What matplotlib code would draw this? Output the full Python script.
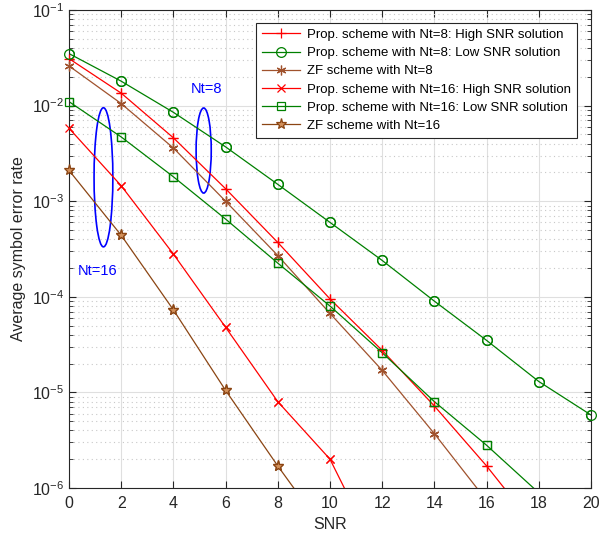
import matplotlib
matplotlib.use("Agg")
import matplotlib.pyplot as plt
from matplotlib.patches import Ellipse
from matplotlib.ticker import LogLocator, NullFormatter

plt.rcParams['font.family'] = ['Liberation Sans', 'DejaVu Sans']

snr = [0, 2, 4, 6, 8, 10, 12, 14, 16, 18, 20]

prop8_high = [0.031, 0.0135, 0.0046, 0.00135, 3.7e-4, 9.5e-5, 2.75e-5, 7.2e-6, 1.7e-6, 3.5e-7, None]
prop8_low = [0.035, 0.018, 0.0085, 0.0037, 0.0015, 6.0e-4, 2.4e-4, 9.0e-5, 3.5e-5, 1.3e-5, 5.8e-6]
zf8 = [0.026, 0.0105, 0.0036, 0.0010, 2.7e-4, 6.7e-5, 1.7e-5, 3.7e-6, 7.4e-7, None, None]
prop16_high = [0.0058, 0.00145, 2.8e-4, 4.8e-5, 8.0e-6, 2.0e-6, 1.6e-7, None, None, None, None]
prop16_low = [0.011, 0.0047, 0.0018, 6.5e-4, 2.25e-4, 8.0e-5, 2.6e-5, 8.0e-6, 2.8e-6, 8.9e-7, None]
zf16 = [0.0021, 4.4e-4, 7.3e-5, 1.05e-5, 1.7e-6, 3.0e-7, None, None, None, None, None]

labels = [
    "Prop. scheme with Nt=8: High SNR solution",
    "Prop. scheme with Nt=8: Low SNR solution",
    "ZF scheme with Nt=8",
    "Prop. scheme with Nt=16: High SNR solution",
    "Prop. scheme with Nt=16: Low SNR solution",
    "ZF scheme with Nt=16",
]

YMIN, YMAX = 1e-6, 1e-1

def clean(xs, ys):
    pts = [(x, y) for x, y in zip(xs, ys) if y is not None]
    return [p[0] for p in pts], [p[1] for p in pts]

fig = plt.figure(figsize=(6.07, 5.37), dpi=100)
ax = fig.add_axes([69/607, 1 - 488/537, 522/607, 478/537])

styles = [
    dict(color='#ff0000', marker='+', ms=7, mew=0.9, mfc='none'),
    dict(color='#008000', marker='o', ms=7, mew=0.9, mfc='none'),
    dict(color='#a0522d', marker=(6, 2, 0), ms=7, mew=0.9, mfc='none'),
    dict(color='#ff0000', marker='x', ms=5.5, mew=0.9, mfc='none'),
    dict(color='#008000', marker='s', ms=6, mew=0.9, mfc='none'),
    dict(color='#8b4513', marker='*', ms=8, mew=0.9, mfc='#d2905a'),
]
series = [prop8_high, prop8_low, zf8, prop16_high, prop16_low, zf16]
for s, st, lab in zip(series, styles, labels):
    xs, ys = clean(snr, s)
    ax.plot(xs, ys, lw=0.9, label=lab, **st)
    mx = [x for x, y in zip(xs, ys) if YMIN <= y <= YMAX]
    my = [y for y in ys if YMIN <= y <= YMAX]
    ax.plot(mx, my, ls='none', clip_on=False, zorder=3, **st)

ax.set_yscale('log')
ax.set_xlim(0, 20)
ax.set_ylim(YMIN, YMAX)
ax.set_xticks(range(0, 21, 2))
ax.yaxis.set_major_locator(LogLocator(base=10, numticks=10))
ax.yaxis.set_minor_locator(LogLocator(base=10, subs=range(2, 10), numticks=20))
ax.yaxis.set_minor_formatter(NullFormatter())
ax.tick_params(which='both', direction='in', top=True, right=True, labelsize=11.5,
               colors='#262626')
ax.tick_params(axis='x', which='major', pad=6)
ax.tick_params(which='major', length=5)
ax.tick_params(which='minor', length=3)
ax.grid(which='major', color='#dfdfdf', lw=0.8, ls='-')
ax.grid(which='minor', axis='y', color='#c8c8c8', lw=0.8, ls=(0, (1, 3)))
ax.grid(which='minor', axis='x', visible=False)
ax.set_axisbelow(True)
for sp in ax.spines.values():
    sp.set_color('#262626')

ax.set_xlabel('SNR', fontsize=11.5, color='#262626')
ax.set_ylabel('Average symbol error rate', fontsize=11.5, color='#262626')

leg = ax.legend(loc='upper right', fontsize=9.5, frameon=True, fancybox=False,
                edgecolor='#262626', framealpha=1, borderpad=0.45,
                handlelength=2.9, labelspacing=0.45, handletextpad=0.5,
                borderaxespad=0, bbox_to_anchor=(0.973, 0.973))
leg.get_frame().set_linewidth(0.8)

ax.add_patch(Ellipse((0.066, 0.650), 0.036, 0.291, transform=ax.transAxes,
                     fill=False, ec='#0000ff', lw=1.2))
ax.add_patch(Ellipse((0.258, 0.706), 0.029, 0.178, transform=ax.transAxes,
                     fill=False, ec='#0000ff', lw=1.2))
ax.text(0.233, 0.835, 'Nt=8', transform=ax.transAxes, color='#0000ff', fontsize=10.5, ha='left', va='center')
ax.text(0.017, 0.455, 'Nt=16', transform=ax.transAxes, color='#0000ff', fontsize=10.5, ha='left', va='center')

fig.savefig('out.png', dpi=100)
